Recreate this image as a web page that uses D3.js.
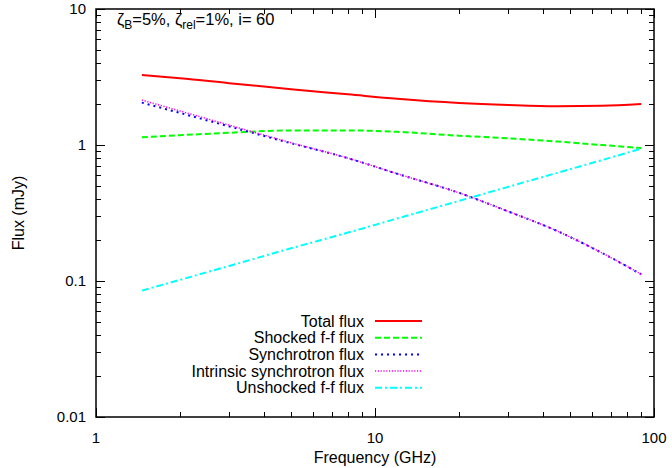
<!DOCTYPE html>
<html><head><meta charset="utf-8">
<script src="https://cdn.jsdelivr.net/npm/d3@7"></script>
<style>body{margin:0;background:#fff}svg{display:block}text{font-family:"Liberation Sans",Arial,sans-serif;fill:#000}</style>
</head><body><svg id="c" width="672" height="468"></svg>
<script>
const freq      = [1.46, 2, 3, 5, 8, 12, 20, 30, 45, 65, 90];
const total     = [3.27, 3.10, 2.85, 2.57, 2.36, 2.19, 2.04, 1.97, 1.93, 1.94, 2.0];
const shocked   = [1.14, 1.18, 1.23, 1.28, 1.28, 1.25, 1.17, 1.12, 1.06, 1.00, 0.95];
const synch     = [2.05, 1.72, 1.37, 1.03, 0.80, 0.615, 0.445, 0.325, 0.233, 0.161, 0.112];
const intrinsic = [2.14, 1.78, 1.40, 1.04, 0.80, 0.615, 0.445, 0.325, 0.233, 0.161, 0.112];
const unshocked = [0.085, 0.102, 0.129, 0.174, 0.227, 0.288, 0.388, 0.492, 0.624, 0.774, 0.94];
const seriesNames = ["Total flux","Shocked f-f flux","Synchrotron flux","Intrinsic synchrotron flux","Unshocked f-f flux"];
const xTicks = [1, 10, 100];
const yTicks = [0.01, 0.1, 1, 10];

const series = [
  {name: seriesNames[0], v: total,     color: "#ff0000", dash: null,          w: 2},
  {name: seriesNames[1], v: shocked,   color: "#00ff00", dash: "6,3",         w: 2},
  {name: seriesNames[2], v: synch,     color: "#0000ff", dash: "2,4",         w: 2},
  {name: seriesNames[3], v: intrinsic, color: "#ff00ff", dash: "1.2,1.6",     w: 1.5},
  {name: seriesNames[4], v: unshocked, color: "#00ffff", dash: "7,3,2,3",     w: 2}
];

const L = 96, R = 654, T = 9, B = 417;
const svg = d3.select("#c");
const x = d3.scaleLog().domain([1, 100]).range([L, R]);
const y = d3.scaleLog().domain([0.01, 10]).range([B, T]);

const xMinor = [], yMinor = [];
for (let d = 1; d < 100; d *= 10) for (let k = 2; k <= 9; k++) xMinor.push(d * k);
for (let d = 0.01; d < 10; d *= 10) for (let k = 2; k <= 9; k++) yMinor.push(+(d * k).toPrecision(3));

const g = svg.append("g").attr("stroke", "#000").attr("stroke-width", 1);
function tickLinesX(vals, len) {
  vals.forEach(v => {
    const px = Math.round(x(v)) + 0.5;
    g.append("line").attr("x1", px).attr("x2", px).attr("y1", B).attr("y2", B - len);
    g.append("line").attr("x1", px).attr("x2", px).attr("y1", T).attr("y2", T + len);
  });
}
function tickLinesY(vals, len) {
  vals.forEach(v => {
    const py = Math.round(y(v)) + 0.5;
    g.append("line").attr("x1", L).attr("x2", L + len).attr("y1", py).attr("y2", py);
    g.append("line").attr("x1", R).attr("x2", R - len).attr("y1", py).attr("y2", py);
  });
}
tickLinesX(xTicks, 9); tickLinesX(xMinor, 5);
tickLinesY(yTicks, 9); tickLinesY(yMinor, 5);

svg.append("rect").attr("x", L).attr("y", T).attr("width", R - L).attr("height", B - T)
  .attr("fill", "none").attr("stroke", "#000").attr("stroke-width", 1.5);

svg.append("g").selectAll("text").data(xTicks).join("text")
  .attr("x", d => x(d)).attr("y", 443).attr("text-anchor", "middle")
  .attr("font-size", 15).text(d => d3.format("~g")(d));
svg.append("g").selectAll("text").data(yTicks).join("text")
  .attr("x", 86).attr("y", d => y(d) + 5).attr("text-anchor", "end")
  .attr("font-size", 15).text(d => d3.format("~g")(d));

svg.append("text").attr("x", 375).attr("y", 463).attr("text-anchor", "middle")
  .attr("font-size", 16).text("Frequency (GHz)");
svg.append("text").attr("transform", "translate(24," + 213 + ") rotate(-90)")
  .attr("text-anchor", "middle").attr("font-size", 16).text("Flux (mJy)");

const line = d3.line().x((d, i) => x(freq[i])).y(d => y(d)).curve(d3.curveMonotoneX);
series.forEach(s => {
  svg.append("path").attr("d", line(s.v)).attr("fill", "none")
    .attr("stroke", s.color).attr("stroke-width", s.w)
    .attr("stroke-dasharray", s.dash);
});

const lg = svg.append("g");
series.forEach((s, i) => {
  const yy = 321 + i * 16.7;
  lg.append("text").attr("x", 364).attr("y", yy + 5.5).attr("text-anchor", "end")
    .attr("font-size", 16).text(s.name);
  lg.append("line").attr("x1", 375).attr("x2", 422).attr("y1", yy).attr("y2", yy)
    .attr("stroke", s.color).attr("stroke-width", s.w).attr("stroke-dasharray", s.dash);
});

const ann = svg.append("text").attr("x", 117).attr("y", 25).attr("font-size", 16.5);
ann.append("tspan").text("ζ");
ann.append("tspan").attr("font-size", 12).attr("dy", 4).text("B");
ann.append("tspan").attr("dy", -4).text("=5%, ζ");
ann.append("tspan").attr("font-size", 12).attr("dy", 4).text("rel");
ann.append("tspan").attr("dy", -4).text("=1%, i= 60");
</script></body></html>
